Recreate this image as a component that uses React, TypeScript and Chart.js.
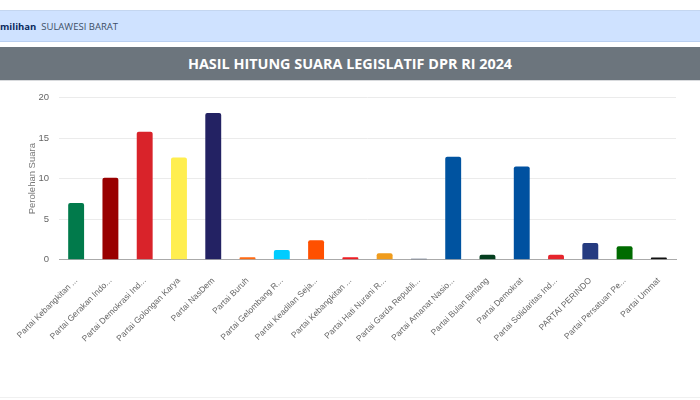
import React, { useEffect, useRef } from "react";
import { Chart, registerables } from "chart.js";

Chart.register(...registerables);

const categories = [
  "Partai Kebangkitan ...",
  "Partai Gerakan Indo...",
  "Partai Demokrasi Ind...",
  "Partai Golongan Karya",
  "Partai NasDem",
  "Partai Buruh",
  "Partai Gelombang R...",
  "Partai Keadilan Seja...",
  "Partai Kebangkitan ...",
  "Partai Hati Nurani R...",
  "Partai Garda Republi...",
  "Partai Amanat Nasio...",
  "Partai Bulan Bintang",
  "Partai Demokrat",
  "Partai Solidaritas Ind...",
  "PARTAI PERINDO",
  "Partai Persatuan Pe...",
  "Partai Ummat",
];

const votes = [7.0, 10.1, 15.8, 12.6, 18.1, 0.3, 1.2, 2.4, 0.3, 0.8, 0.12, 12.7, 0.6, 11.5, 0.6, 2.05, 1.65, 0.28];

const barColors = [
  "#017a4b",
  "#990000",
  "#d9232a",
  "#ffee4f",
  "#232263",
  "#ff6a13",
  "#00ccff",
  "#ff5000",
  "#ee1d23",
  "#f09c1c",
  "#3c4e6a",
  "#0053a0",
  "#053f20",
  "#0051a0",
  "#e6252d",
  "#253b80",
  "#006b00",
  "#111111",
];

const yTicks = [0, 5, 10, 15, 20];

function BarChart() {
  const ref = useRef<HTMLCanvasElement>(null);
  useEffect(() => {
    if (!ref.current) return;
    const chart = new Chart(ref.current, {
      type: "bar",
      data: {
        labels: categories,
        datasets: [
          {
            label: "Perolehan Suara",
            data: votes,
            backgroundColor: barColors,
            borderRadius: 2,
            borderSkipped: "bottom",
            categoryPercentage: 0.8,
            barPercentage: 0.58,
          },
        ],
      },
      options: {
        animation: false,
        responsive: true,
        maintainAspectRatio: false,
        layout: { autoPadding: false, padding: { top: 15, right: 24, left: 27, bottom: 44 } },
        plugins: {
          legend: { display: false },
          tooltip: { enabled: false },
        },
        scales: {
          x: {
            grid: { display: false },
            border: { display: true, color: "#aaaaaa", width: 1 },
            ticks: {
              color: "#666666",
              font: { family: "'Liberation Sans', Arial, sans-serif", size: 8.5 },
              maxRotation: 45,
              minRotation: 45,
              autoSkip: false,
              padding: 8,
            },
          },
          y: {
            min: 0,
            max: 20,
            afterBuildTicks: (axis: any) => {
              axis.ticks = yTicks.map((v) => ({ value: v }));
            },
            afterFit: (axis: any) => {
              axis.width = 32;
            },
            grid: { color: "#ebebeb", drawTicks: false },
            border: { display: false },
            ticks: {
              color: "#666666",
              font: { family: "'Liberation Sans', Arial, sans-serif", size: 9.5 },
              padding: 10,
            },
            title: {
              display: true,
              text: "Perolehan Suara",
              color: "#777777",
              font: { family: "'Liberation Sans', Arial, sans-serif", size: 9.5 },
              padding: 0,
            },
          },
        },
      },
    });
    return () => chart.destroy();
  }, []);
  return <canvas ref={ref} />;
}

export default function App() {
  return (
    <div
      style={{
        position: "fixed",
        left: 0,
        top: 0,
        width: 700,
        height: 400,
        background: "#ffffff",
        overflow: "hidden",
        fontFamily: "'Open Sans', 'Noto Sans', sans-serif",
      }}
    >
      <div
        style={{
          position: "absolute",
          left: 0,
          top: 10,
          width: 700,
          height: 32,
          background: "#cfe2ff",
          borderTop: "1px solid #c4d6f0",
          borderBottom: "1px solid #b9cff0",
          boxSizing: "border-box",
          display: "flex",
          alignItems: "center",
          fontSize: 9.5,
          color: "#3d4f66",
          whiteSpace: "nowrap",
        }}
      >
        <span style={{ fontWeight: 700, color: "#0a2a5e" }}>milihan</span>
        <span style={{ marginLeft: 5 }}>SULAWESI BARAT</span>
      </div>
      <div
        style={{
          position: "absolute",
          left: 0,
          top: 47,
          width: 700,
          height: 34,
          background: "#6c757d",
          borderBottom: "1px solid #d8dadd",
          boxSizing: "border-box",
          display: "flex",
          alignItems: "center",
          justifyContent: "center",
          color: "#ffffff",
          fontWeight: 700,
          fontSize: 14.4,
          letterSpacing: 0,
        }}
      >
        HASIL HITUNG SUARA LEGISLATIF DPR RI 2024
      </div>
      <div
        style={{
          position: "absolute",
          left: 0,
          top: 82,
          width: 700,
          height: 314,
        }}
      >
        <BarChart />
      </div>
      <div
        style={{
          position: "absolute",
          left: 0,
          top: 397,
          width: 700,
          height: 1,
          background: "#f0f0f0",
        }}
      />
    </div>
  );
}
